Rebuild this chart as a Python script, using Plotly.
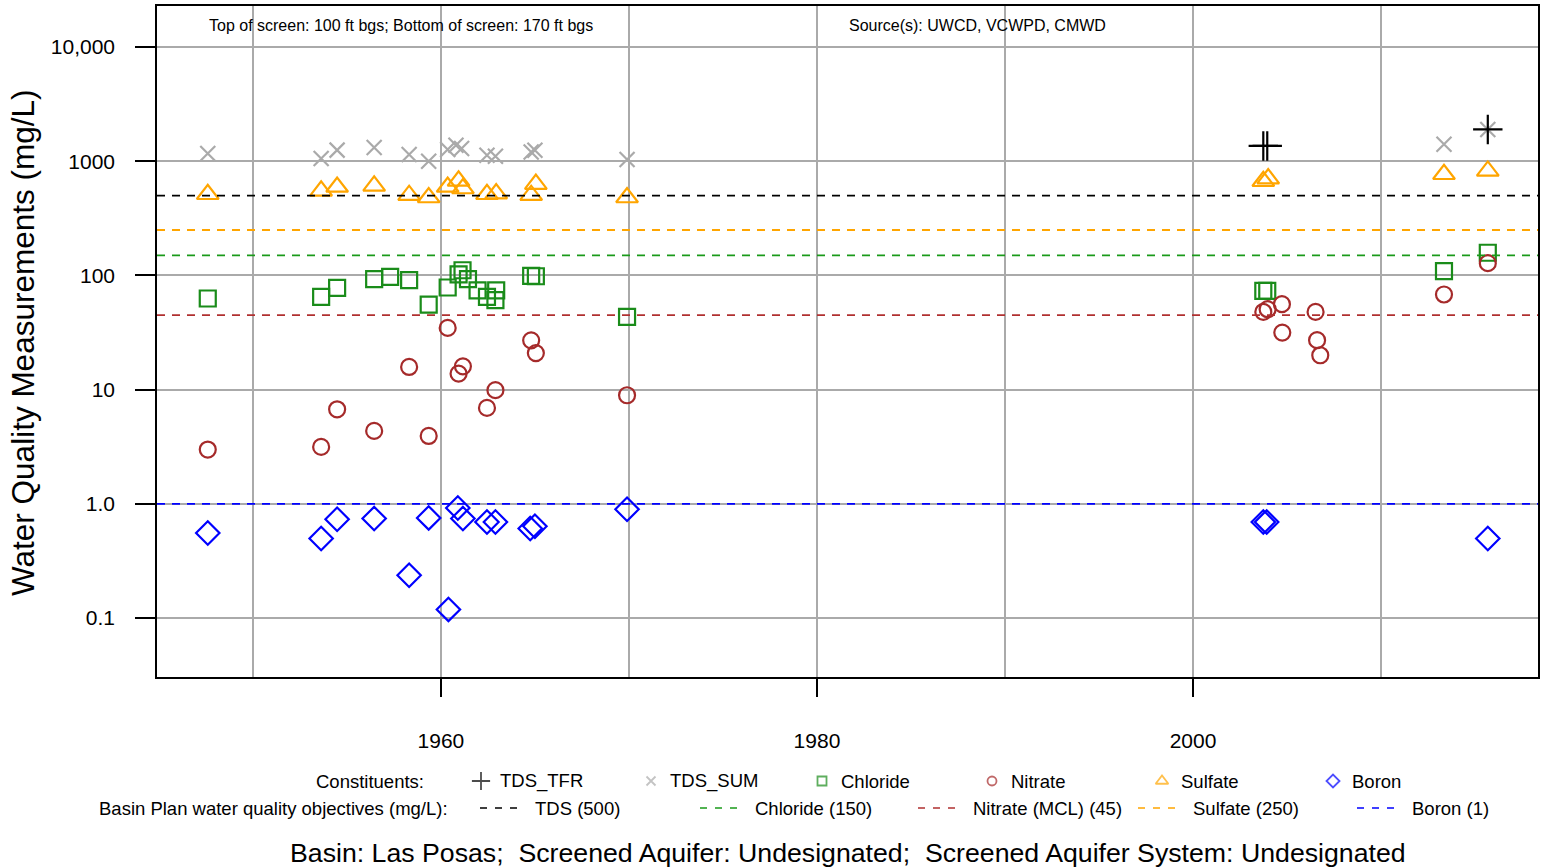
import plotly.graph_objects as go

# ---------------- data (decimal years, mg/L) ----------------
tds_tfr_x = [2003.74, 2003.95, 2015.68]
tds_tfr_y = [1361, 1361, 1897]

tds_sum_x = [1947.6, 1953.63, 1954.48, 1956.45, 1958.31, 1959.35, 1960.36, 1960.8, 1961.1,
             1962.45, 1962.9, 1964.8, 1965.0, 1969.9, 2013.35, 2015.68]
tds_sum_y = [1170, 1056, 1250, 1318, 1144, 1000, 1266, 1380, 1292,
             1129, 1106, 1206, 1249, 1035, 1409, 1897]

chloride_x = [1947.6, 1953.63, 1954.48, 1956.45, 1957.3, 1958.31, 1959.35, 1960.36, 1960.94,
              1961.15, 1961.44, 1961.95, 1962.45, 1962.94, 1962.9, 1964.8, 1965.05, 1969.9,
              2003.74, 2003.95, 2013.35, 2015.68]
chloride_y = [62.8, 64.9, 77.8, 92.7, 97, 90.8, 55.6, 78.4, 102,
              111, 92.7, 74, 64.9, 74, 60.7, 99, 98.4, 43.4,
              73.1, 73.1, 109, 158]

nitrate_x = [1947.6, 1953.63, 1954.48, 1956.45, 1958.31, 1959.35, 1960.36, 1960.94, 1961.17,
             1962.45, 1962.9, 1964.8, 1965.05, 1969.9,
             2003.74, 2003.97, 2004.73, 2004.75, 2006.52, 2006.6, 2006.77, 2013.35, 2015.68]
nitrate_y = [2.99, 3.15, 6.73, 4.35, 15.8, 3.93, 34.7, 13.8, 16,
             6.92, 9.9, 27, 20.9, 8.93,
             47.9, 50.6, 56, 31.6, 47.9, 27.1, 20, 68.1, 128]

sulfate_x = [1947.6, 1953.63, 1954.48, 1956.45, 1958.31, 1959.35, 1960.36, 1960.94, 1961.17,
             1962.45, 1962.94, 1964.8, 1965.05, 1969.9, 2003.74, 2004.0, 2013.35, 2015.68]
sulfate_y = [514, 550, 595, 608, 504, 481, 595, 673, 577,
             514, 521, 504, 630, 481, 668, 705, 769, 822]

boron_x = [1947.6, 1953.63, 1954.48, 1956.45, 1958.31, 1959.35, 1960.4, 1960.9, 1961.17,
           1962.45, 1962.9, 1964.75, 1965.0, 1969.9, 2003.74, 2003.92, 2015.68]
boron_y = [0.556, 0.497, 0.733, 0.743, 0.237, 0.753, 0.119, 0.92, 0.743,
           0.694, 0.694, 0.608, 0.637, 0.897, 0.694, 0.694, 0.497]

objective_names = ["TDS (500)", "Chloride (150)", "Nitrate (MCL) (45)", "Sulfate (250)", "Boron (1)"]
objective_values = [500, 150, 45, 250, 1]
objective_colors = ["#000000", "#1a9a1a", "#b03030", "#ffa500", "#0000ff"]

y_tickvals = [0.1, 1, 10, 100, 1000, 10000]
y_ticktext = ["0.1", "1.0", "10", "100", "1000", "10,000"]
x_tickvals = [1960, 1980, 2000]

# ---------------- figure ----------------
W, H = 1546, 868
ML, MR, MT, MB = 157, 8, 6, 5
PW = W - ML - MR
PH = H - MT - MB
main_bottom_px = 677
ydom0 = (H - MB - main_bottom_px) / PH

def px(x):
    return (x - ML) / PW

def py(y):
    return (H - MB - y) / PH

fig = go.Figure()

GRAY = "#aaaaaa"
series = [
    ("TDS_SUM", tds_sum_x, tds_sum_y, "x-thin-open", GRAY, 15),
    ("Sulfate", sulfate_x, sulfate_y, "triangle-up-open", "#ffa500", 19),
    ("Chloride", chloride_x, chloride_y, "square-open", "#1a8c1a", 16),
    ("Nitrate", nitrate_x, nitrate_y, "circle-open", "#a52a2a", 16),
    ("Boron", boron_x, boron_y, "diamond-open", "#0000ff", 18),
    ("TDS_TFR", tds_tfr_x, tds_tfr_y, "cross-thin-open", "#000000", 21),
]
for name, xs, ys, sym, col, sz in series:
    fig.add_trace(go.Scatter(x=xs, y=ys, mode="markers", name=name, showlegend=False,
                             marker=dict(symbol=sym, size=sz, color=col,
                                         line=dict(color=col, width=2.2))))

# objective lines
for v, c in zip(objective_values, objective_colors):
    fig.add_shape(type="line", xref="x domain", yref="y", x0=0, x1=1, y0=v, y1=v,
                  line=dict(color=c, width=1.8, dash="8px,7px"), layer="above")

TF = dict(size=21, color="black")
fig.update_xaxes(range=[1944.9, 2018.35], tickvals=x_tickvals, ticks="outside", ticklen=18,
                 tickwidth=1.5, tickcolor="black", showgrid=True, gridcolor=GRAY, gridwidth=1.5,
                 minor=dict(dtick=10, tick0=1950, showgrid=True, gridcolor=GRAY, gridwidth=1.5, ticks=""),
                 showline=True, linecolor="black", linewidth=1.5, mirror=True, zeroline=False,
                 ticklabelstandoff=26, tickfont=TF)
fig.update_yaxes(type="log", range=[-1.516, 4.359], domain=[ydom0, 1], tickvals=y_tickvals,
                 ticktext=y_ticktext, ticks="outside", ticklen=20, tickwidth=1.5, tickcolor="black",
                 showgrid=True, gridcolor=GRAY, gridwidth=1.5, showline=True, linecolor="black",
                 linewidth=1.5, mirror=True, zeroline=False, ticklabelstandoff=16,
                 tickfont=TF)

def ann(text, x, y, size, xanchor="center", angle=0):
    return dict(text=text, xref="paper", yref="paper", x=px(x), y=py(y), xanchor=xanchor,
                yanchor="middle", showarrow=False, textangle=angle,
                font=dict(size=size, color="black"))

annotations = []
annotations.append(ann("Water Quality Measurements (mg/L)", 23, 343, 31.5, angle=-90))
annotations.append(ann("Top of screen: 100 ft bgs; Bottom of screen: 170 ft bgs", 207, 25, 16, "left"))
annotations.append(ann("Source(s): UWCD, VCWPD, CMWD", 847, 25, 16, "left"))

# legend row 1
LFS = 18.5
annotations.append(ann("Constituents:", 426, 781, LFS, "right"))
leg_syms = [("TDS_TFR", "cross-thin-open", "#000000", 481, 13),
            ("TDS_SUM", "x-thin-open", GRAY, 651, 9),
            ("Chloride", "square-open", "#1a8c1a", 822, 9),
            ("Nitrate", "circle-open", "#a52a2a", 992, 9),
            ("Sulfate", "triangle-up-open", "#ffa500", 1162, 11),
            ("Boron", "diamond-open", "#0000ff", 1333, 10)]
for name, sym, col, xpix, sz in leg_syms:
    annotations.append(ann(name, xpix + 17, 781, LFS, "left"))

# legend row 2
annotations.append(ann("Basin Plan water quality objectives (mg/L):", 450, 808, LFS, "right"))
leg_line_x = [480, 700, 918, 1138, 1357]
for name, col, xpix in zip(objective_names, objective_colors, leg_line_x):
    annotations.append(ann(name, xpix + 53, 808, LFS, "left"))
    fig.add_shape(type="line", xref="paper", yref="paper", x0=px(xpix), x1=px(xpix + 40),
                  y0=py(808), y1=py(808), line=dict(color=col, width=1.5, dash="7px,8px"))

annotations.append(ann("Basin: Las Posas;  Screened Aquifer: Undesignated;  Screened Aquifer System: Undesignated",
                       848, 853, 26.7))

# legend symbols via hidden overlay axis in pixel coordinates
fig.add_trace(go.Scatter(x=[s[3] for s in leg_syms], y=[781] * len(leg_syms), mode="markers",
                         xaxis="x2", yaxis="y2", showlegend=False, cliponaxis=False,
                         marker=dict(symbol=[s[1] for s in leg_syms], size=[s[4] for s in leg_syms],
                                     color=[s[2] for s in leg_syms],
                                     line=dict(color=[s[2] for s in leg_syms], width=1.8))))

fig.update_layout(
    width=W, height=H,
    margin=dict(l=ML, r=MR, t=MT, b=MB),
    paper_bgcolor="white", plot_bgcolor="white",
    font=dict(family="Liberation Sans, Arial, sans-serif", color="black"),
    annotations=annotations,
    xaxis2=dict(domain=[0, 1], range=[ML, W - MR], visible=False, anchor="y2"),
    yaxis2=dict(domain=[0, ydom0], range=[H - MB, main_bottom_px], visible=False, anchor="x2"),
    showlegend=False,
)

fig.write_html("out.html", config={"displayModeBar": False},
               post_script="document.body.style.margin='0px';document.body.style.overflow='hidden';")
